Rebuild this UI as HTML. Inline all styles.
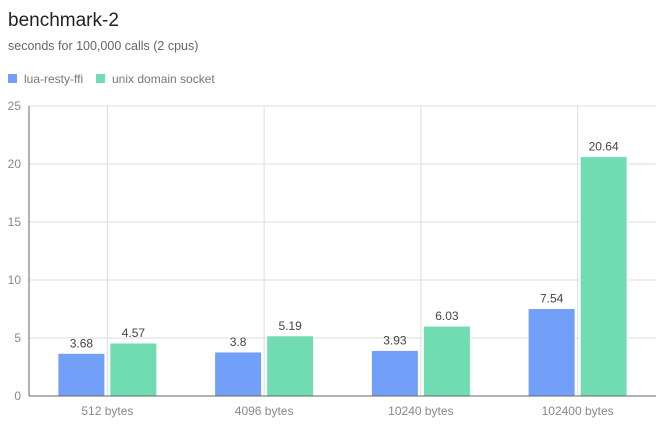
<!DOCTYPE html>
<html><head><meta charset="utf-8"><style>
body{margin:0;background:#fff;font-family:"Liberation Sans",sans-serif}
svg text{font-family:"Liberation Sans",sans-serif}
</style></head><body>
<svg id="c" width="667" height="428" xmlns="http://www.w3.org/2000/svg">
<text x="8" y="26" font-size="19" fill="#222">benchmark-2</text>
<text x="8" y="50" font-size="12.5" fill="#666">seconds for 100,000 calls (2 cpus)</text>
<g>
<rect x="8" y="74" width="9" height="9" fill="#729ff7"/>
<text x="24" y="83" font-size="12" fill="#777">lua-resty-ffi</text>
<rect x="96" y="74" width="9" height="9" fill="#71dcb1"/>
<text x="112" y="83" font-size="12" fill="#777">unix domain socket</text>
</g>
<g id="plot"></g>
</svg>
<script>
const categories=["512 bytes","4096 bytes","10240 bytes","102400 bytes"];
const ffiValues=[3.68,3.8,3.93,7.54];
const udsValues=[4.57,5.19,6.03,20.64];
const yTicks=[0,5,10,15,20,25];
const L=29,R=656,T=106,B=396,yMax=25;
const y=v=>B-(v/yMax)*(B-T);
const bw=(R-L)/categories.length;
const cx=i=>L+bw*i+bw/2;
const NS="http://www.w3.org/2000/svg";
const g=document.getElementById('plot');
function mk(t,a){const e=document.createElementNS(NS,t);for(const k in a)e.setAttribute(k,a[k]);g.appendChild(e);return e;}
yTicks.forEach(t=>{
  if(t>0){const l=mk('line',{x1:L,x2:R,y1:y(t),y2:y(t),stroke:'#ddd'});
  
  }
  const tx=mk('text',{x:21,y:y(t)+4,'font-size':12,fill:'#888','text-anchor':'end'});tx.textContent=t;
  
  
});
categories.forEach((c,i)=>{
  const l=mk('line',{x1:cx(i),x2:cx(i),y1:T,y2:B,stroke:'#ddd'});
  
  
  const tx=mk('text',{x:cx(i),y:B+19,'font-size':12,fill:'#888','text-anchor':'middle'});tx.textContent=c;
  
  
  [[ffiValues[i],'#729ff7',cx(i)-50,'bar-ffi'],[udsValues[i],'#71dcb1',cx(i)+2,'bar-uds']].forEach(([v,col,x,n])=>{
    const r=mk('rect',{x:x+0.5,y:y(v),width:47,height:B-y(v),fill:col,stroke:'#fff','stroke-width':1});
    
    
    const lb=mk('text',{x:x+24,y:y(v)-6,'font-size':12,fill:'#444','text-anchor':'middle'});lb.textContent=v;
    
    
  });
});
const ax=mk('line',{x1:L,x2:L,y1:T,y2:B,stroke:'#666'});


const bx=mk('line',{x1:L,x2:R,y1:B,y2:B,stroke:'#666'});


</script>
</body></html>
